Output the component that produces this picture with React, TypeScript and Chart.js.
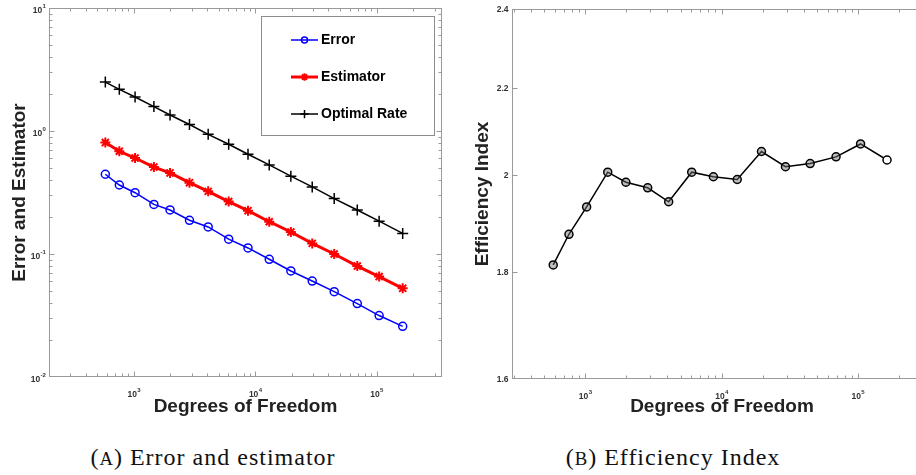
import React, { useEffect, useRef } from 'react';
import { Chart, registerables } from 'chart.js';
import { drawPoint } from 'chart.js/helpers';

Chart.register(...registerables);

// degrees of freedom of each adaptive refinement step
const dofs = [582, 759, 1023, 1462, 1986, 2871, 4093, 6039, 8710, 13030, 19630, 29440, 44670, 69180, 104700, 163700];
const errorVals = [0.445, 0.364, 0.315, 0.253, 0.228, 0.188, 0.166, 0.132, 0.112, 0.0906, 0.0728, 0.0603, 0.0494, 0.0395, 0.0316, 0.0258];
const estimatorVals = [0.805, 0.684, 0.603, 0.509, 0.456, 0.38, 0.323, 0.267, 0.225, 0.183, 0.151, 0.122, 0.1, 0.0798, 0.0655, 0.0526];
const optimalVals = [2.5, 2.18, 1.89, 1.58, 1.35, 1.13, 0.94, 0.78, 0.647, 0.53, 0.429, 0.351, 0.282, 0.228, 0.185, 0.147];
const effIndex = [1.813, 1.875, 1.932, 2.007, 1.985, 1.973, 1.943, 2.007, 1.997, 1.991, 2.053, 2.019, 2.026, 2.041, 2.07, 2.034];
const effTicks = [1.6, 1.8, 2, 2.2, 2.4];
const seriesLabels = ['Error', 'Estimator', 'Optimal Rate'];

const SANS = '"Liberation Sans", Arial, Helvetica, sans-serif';
const SERIF = '"Liberation Serif", "Times New Roman", serif';
const AXIS_GRAY = '#9a9a9a';
const TICK_COLOR = '#333333';
const TITLE_COLOR = '#222222';

const isPow10 = (v: number) => Math.abs(Math.log10(v) - Math.round(Math.log10(v))) < 1e-6;
// "10^e" for decades, nothing for the minor ticks; split into base and exponent when drawn
const powLabel = (v: number) => (isPow10(v) ? '10^' + Math.round(Math.log10(v)) : '');

// keep only 1..9 x 10^k ticks (chart.js also adds 1.5 x 10^k and the range ends)
const keepIntegerMantissa = (scale: any) => {
  scale.ticks = scale.ticks.filter((t: any) => {
    const m = t.value / Math.pow(10, Math.floor(Math.log10(t.value) + 1e-9));
    return Math.abs(m - Math.round(m)) < 1e-6;
  });
};

const zeroPadding = (s: any) => {
  s.paddingLeft = 0;
  s.paddingRight = 0;
  s.paddingTop = 0;
  s.paddingBottom = 0;
};

const BASE_FONT = `bold 8.5px ${SANS}`;
const EXP_FONT = `bold 6px ${SANS}`;
const titleFont = { family: SANS, size: 19, weight: 'bold' as const };

// draws "10" with a raised exponent, or a plain label; align is 'center' or 'right'
const drawTickLabel = (ctx: CanvasRenderingContext2D, label: string, x: number, baseline: number, align: 'center' | 'right') => {
  const [base, exp] = label.split('^');
  ctx.font = BASE_FONT;
  const wb = ctx.measureText(base).width;
  let we = 0;
  if (exp !== undefined) {
    ctx.font = EXP_FONT;
    we = ctx.measureText(exp).width;
  }
  const total = wb + we;
  const x0 = align === 'center' ? x - total / 2 : x - total;
  ctx.font = BASE_FONT;
  ctx.fillText(base, x0, baseline);
  if (exp !== undefined) {
    ctx.font = EXP_FONT;
    ctx.fillText(exp, x0 + wb + 0.3, baseline - 4.5);
  }
};

// MATLAB-like box with inward ticks on all four sides
const framePlugin = {
  id: 'frame',
  beforeDatasetsDraw(chart: any) {
    const { ctx, chartArea: a } = chart;
    const l = Math.round(a.left) + 0.5;
    const t = Math.round(a.top) + 0.5;
    const r = Math.round(a.right) - 0.5;
    const b = Math.round(a.bottom) - 0.5;
    ctx.save();
    ctx.strokeStyle = AXIS_GRAY;
    ctx.lineWidth = 1;
    ctx.strokeRect(l, t, r - l, b - t);
    ctx.beginPath();
    const xs = chart.scales.x;
    xs.ticks.forEach((tk: any) => {
      const p = Math.round(xs.getPixelForValue(tk.value)) + 0.5;
      if (p <= l + 1 || p >= r - 1) return;
      const len = tk.label ? 5 : 3;
      ctx.moveTo(p, b);
      ctx.lineTo(p, b - len);
      ctx.moveTo(p, t);
      ctx.lineTo(p, t + len);
    });
    const ys = chart.scales.y;
    ys.ticks.forEach((tk: any) => {
      const p = Math.round(ys.getPixelForValue(tk.value)) + 0.5;
      if (p <= t + 1 || p >= b - 1) return;
      const len = tk.label ? 5 : 3;
      ctx.moveTo(l, p);
      ctx.lineTo(l + len, p);
      ctx.moveTo(r, p);
      ctx.lineTo(r - len, p);
    });
    ctx.stroke();

    // tick labels
    ctx.fillStyle = TICK_COLOR;
    ctx.textBaseline = 'alphabetic';
    ctx.textAlign = 'left';
    xs.ticks.forEach((tk: any) => {
      if (!tk.label) return;
      drawTickLabel(ctx, tk.label, xs.getPixelForValue(tk.value), b + 20, 'center');
    });
    ys.ticks.forEach((tk: any) => {
      if (!tk.label) return;
      const p = ys.getPixelForValue(tk.value);
      const sup = String(tk.label).includes('^');
      drawTickLabel(ctx, tk.label, l - 4, p + (sup ? 4.5 : 3), 'right');
    });
    ctx.restore();
  },
};

// boxed legend in the upper right corner of the plot area
const legendBoxPlugin = {
  id: 'legendBox',
  afterDatasetsDraw(chart: any) {
    const { ctx, chartArea: a } = chart;
    const w = 173;
    const h = 119;
    const x0 = Math.round(a.right - 8 - w);
    const y0 = Math.round(a.top + 8);
    ctx.save();
    ctx.fillStyle = '#ffffff';
    ctx.fillRect(x0, y0, w, h);
    ctx.strokeStyle = '#8c8c8c';
    ctx.lineWidth = 1;
    ctx.strokeRect(x0 + 0.5, y0 + 0.5, w, h);
    chart.data.datasets.forEach((ds: any, i: number) => {
      const cy = y0 + 24 + i * 37;
      const lx = x0 + 30;
      ctx.strokeStyle = ds.borderColor;
      ctx.lineWidth = ds.borderWidth;
      ctx.beginPath();
      ctx.moveTo(lx, cy);
      ctx.lineTo(lx + 27, cy);
      ctx.stroke();
      ctx.lineWidth = ds.pointBorderWidth;
      ctx.fillStyle = 'rgba(0,0,0,0)';
      drawPoint(ctx, { pointStyle: ds.pointStyle, radius: ds.pointRadius * 0.75, borderWidth: ds.pointBorderWidth, rotation: 0 } as any, lx + 13.5, cy);
      ctx.fillStyle = '#000000';
      ctx.font = `bold 14px ${SANS}`;
      ctx.textBaseline = 'middle';
      ctx.textAlign = 'left';
      ctx.fillText(ds.label, lx + 30, cy);
    });
    ctx.restore();
  },
};

const hiddenTicks = { display: false, autoSkip: false, maxRotation: 0, minRotation: 0 };

const errorConfig = (): any => ({
  type: 'line',
  data: {
    datasets: [
      {
        label: seriesLabels[0],
        data: dofs.map((x, i) => ({ x, y: errorVals[i] })),
        borderColor: '#0000ff',
        borderWidth: 1.5,
        pointStyle: 'circle',
        pointRadius: 4,
        pointBorderWidth: 1.5,
        pointBorderColor: '#0000ff',
        pointBackgroundColor: 'rgba(0,0,0,0)',
      },
      {
        label: seriesLabels[1],
        data: dofs.map((x, i) => ({ x, y: estimatorVals[i] })),
        borderColor: '#ff0000',
        borderWidth: 3,
        pointStyle: 'star',
        pointRadius: 5,
        pointBorderWidth: 2,
        pointBorderColor: '#ff0000',
      },
      {
        label: seriesLabels[2],
        data: dofs.map((x, i) => ({ x, y: optimalVals[i] })),
        borderColor: '#000000',
        borderWidth: 1.5,
        pointStyle: 'cross',
        pointRadius: 5.5,
        pointBorderWidth: 1.5,
        pointBorderColor: '#000000',
      },
    ],
  },
  options: {
    animation: false,
    responsive: true,
    maintainAspectRatio: false,
    layout: { autoPadding: false, padding: { left: 0, top: 8, right: 18, bottom: 0 } },
    plugins: { legend: { display: false }, tooltip: { enabled: false } },
    scales: {
      x: {
        type: 'logarithmic',
        min: 200,
        max: 345000,
        grid: { display: false, drawTicks: false },
        border: { display: false },
        afterBuildTicks: keepIntegerMantissa,
        ticks: { ...hiddenTicks, callback: (v: any) => powLabel(Number(v)) },
        title: { display: true, text: 'Degrees of Freedom', color: TITLE_COLOR, font: titleFont, padding: { top: 0, bottom: 7 } },
        afterFit: (s: any) => { s.height = 48; zeroPadding(s); },
      },
      y: {
        type: 'logarithmic',
        min: 0.01,
        max: 10,
        grid: { display: false, drawTicks: false },
        border: { display: false },
        afterBuildTicks: keepIntegerMantissa,
        ticks: { ...hiddenTicks, callback: (v: any) => powLabel(Number(v)) },
        title: { display: true, text: 'Error and Estimator', color: TITLE_COLOR, font: titleFont, padding: { top: 8, bottom: 0 } },
        afterFit: (s: any) => { s.width = 49; zeroPadding(s); },
      },
    },
  },
  plugins: [framePlugin, legendBoxPlugin],
});

const effConfig = (): any => ({
  type: 'line',
  data: {
    datasets: [
      {
        label: 'Efficiency Index',
        data: dofs.map((x, i) => ({ x, y: effIndex[i] })),
        borderColor: '#000000',
        borderWidth: 1.5,
        pointStyle: 'circle',
        pointRadius: 4,
        pointBorderWidth: 1.5,
        pointBorderColor: '#000000',
        pointBackgroundColor: (c: any) => (c.dataIndex === effIndex.length - 1 ? '#ffffff' : 'rgba(110,110,110,0.45)'),
      },
    ],
  },
  options: {
    animation: false,
    responsive: true,
    maintainAspectRatio: false,
    layout: { autoPadding: false, padding: { left: 0, top: 9, right: 8, bottom: 0 } },
    plugins: { legend: { display: false }, tooltip: { enabled: false } },
    scales: {
      x: {
        type: 'logarithmic',
        min: 290,
        max: 350000,
        grid: { display: false, drawTicks: false },
        border: { display: false },
        afterBuildTicks: keepIntegerMantissa,
        ticks: { ...hiddenTicks, callback: (v: any) => powLabel(Number(v)) },
        title: { display: true, text: 'Degrees of Freedom', color: TITLE_COLOR, font: titleFont, padding: { top: 0, bottom: 7 } },
        afterFit: (s: any) => { s.height = 46; zeroPadding(s); },
      },
      y: {
        type: 'logarithmic',
        min: 1.6,
        max: 2.4,
        grid: { display: false, drawTicks: false },
        border: { display: false },
        afterBuildTicks: (s: any) => { s.ticks = effTicks.map((value) => ({ value })); },
        ticks: { ...hiddenTicks, callback: (v: any) => String(v) },
        title: { display: true, text: 'Efficiency Index', color: TITLE_COLOR, font: titleFont, padding: { top: 11, bottom: 0 } },
        afterFit: (s: any) => { s.width = 52; zeroPadding(s); },
      },
    },
  },
  plugins: [framePlugin],
});

const ChartCanvas: React.FC<{ makeConfig: () => any; style: React.CSSProperties }> = ({ makeConfig, style }) => {
  const canvasRef = useRef<HTMLCanvasElement>(null);

  useEffect(() => {
    const chart = new Chart(canvasRef.current!, makeConfig());
    return () => {
      chart.destroy();
    };
  }, [makeConfig]);

  return (
    <div style={{ position: 'absolute', ...style }}>
      <canvas ref={canvasRef} />
    </div>
  );
};

const Caption: React.FC<{ letter: string; text: string; center: number }> = ({ letter, text, center }) => (
  <div
    style={{
      position: 'absolute',
      left: center - 200,
      width: 400,
      top: 445,
      textAlign: 'center',
      fontFamily: SERIF,
      fontSize: 24,
      lineHeight: '24px',
      letterSpacing: 1,
      color: '#111111',
      whiteSpace: 'nowrap',
    }}
  >
    (<span style={{ fontSize: '0.78em' }}>{letter}</span>) {text}
  </div>
);

export default function App() {
  return (
    <div style={{ position: 'absolute', left: 0, top: 0, width: 916, height: 475, overflow: 'hidden', background: '#ffffff' }}>
      <ChartCanvas makeConfig={errorConfig} style={{ left: 0, top: 0, width: 460, height: 425 }} />
      <ChartCanvas makeConfig={effConfig} style={{ left: 460, top: 0, width: 480, height: 425 }} />
      <Caption letter="A" text="Error and estimator" center={213} />
      <Caption letter="B" text="Efficiency Index" center={673} />
    </div>
  );
}
